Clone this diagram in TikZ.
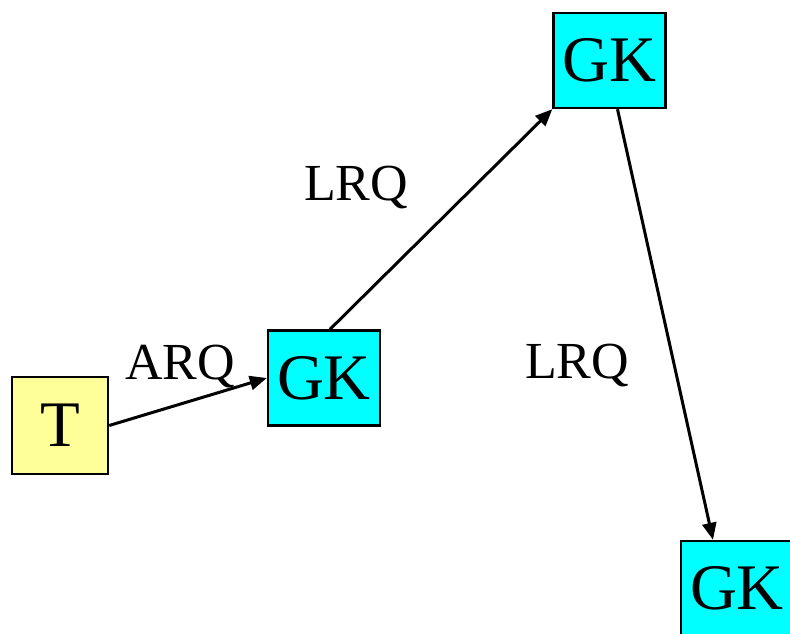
\documentclass[tikz,border=0pt]{standalone}
\usepackage{fontspec}
\setmainfont{Liberation Serif}
\usetikzlibrary{positioning}
\usetikzlibrary{arrows.meta}
\definecolor{termyellow}{HTML}{FFFF99}
\definecolor{gkcyan}{HTML}{00FFFF}
\tikzset{
    box/.style={                 % Common look of every entity box
        draw, line width=2.4pt,
        inner sep=0pt,
        font=\fontsize{65}{65}\selectfont},
    term/.style={box,            % The terminal
        fill=termyellow,
        minimum width=96pt, minimum height=97pt},
    gk/.style={box,              % A gatekeeper
        fill=gkcyan,
        minimum width=112pt, minimum height=95pt},
    lbl/.style={                 % Message labels
        anchor=base, inner sep=0pt,
        font=\fontsize{52}{52}\selectfont},
    msg/.style={                 % Sets the properties for each message
        -{Triangle[length=17pt,width=14pt]},
        line width=3pt}}
\begin{document}
\begin{tikzpicture}
        % positions in pt, measured from the top left corner
        \useasboundingbox (0pt,0pt) rectangle (790pt,-634pt);
        \node[term] (t) at (60pt,-425.5pt) {T};
        \node[gk] (gka) at (324pt,-378pt) {GK};
        \node[gk] (gkb) at (609.5pt,-60.5pt) {GK};
        \node[gk] (gkc) at (737pt,-588.5pt) {GK};

        \node[lbl] (arq) at (180pt,-379pt) {ARQ};
        \node[lbl] (lrqa) at (356pt,-200pt) {LRQ};
        \node[lbl] (lrqb) at (577pt,-378pt) {LRQ};

        \draw[msg] (t.east) -- (gka.west);
        \draw[msg] ([xshift=6pt]gka.north) -- (gkb.south west);
        \draw[msg] ([xshift=8pt]gkb.south) -- ([xshift=-24pt]gkc.north);
    \end{tikzpicture}
\end{document}
